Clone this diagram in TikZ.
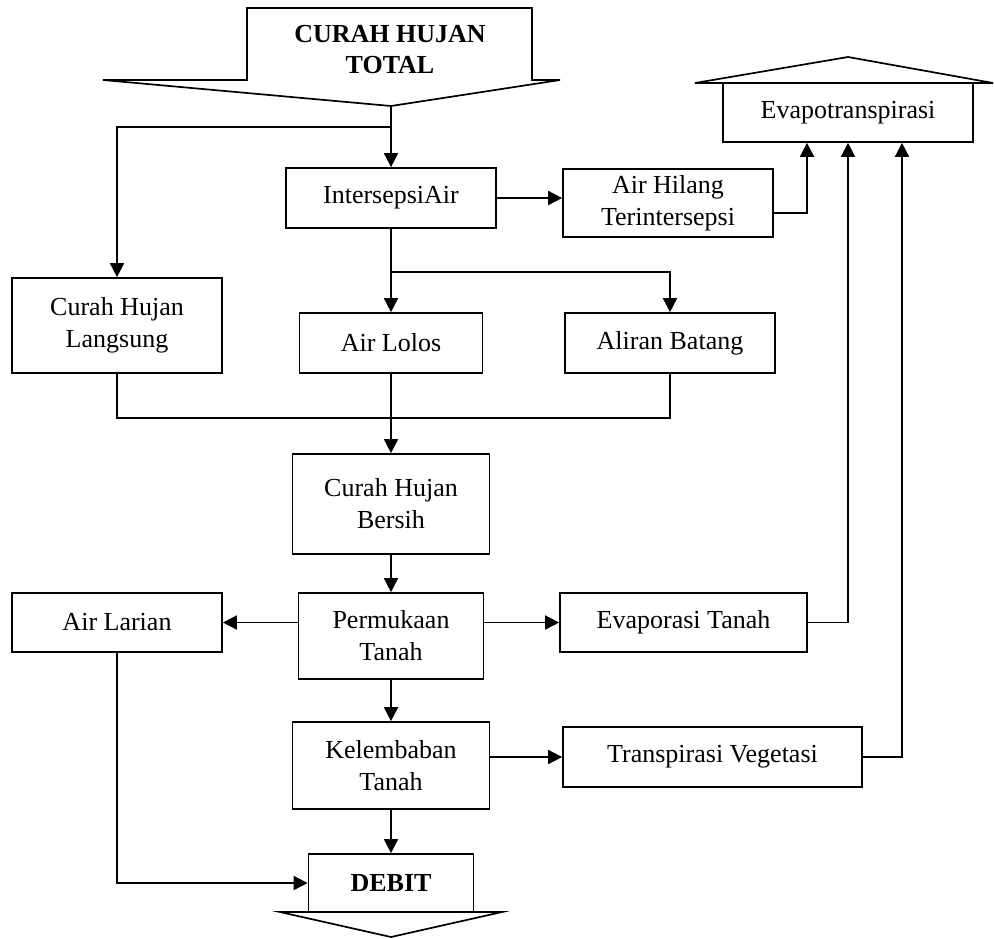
\documentclass[tikz,border=0pt]{standalone}
\usepackage{fontspec}
\setmainfont{Liberation Serif}
\usetikzlibrary{arrows.meta}

\begin{document}
\begin{tikzpicture}[x=0.5pt, y=-0.5pt, line width=0.85pt,
  every node/.style={font=\fontsize{13}{16}\selectfont, align=center},
  box/.style={draw, inner sep=0pt},
  arr/.style={-{Triangle[length=7pt, width=7pt]}}]
\useasboundingbox (0,0) rectangle (994,938);

\node[font=\fontsize{13}{15.5}\selectfont\bfseries] (total) at (390,50) {CURAH HUJAN\\TOTAL};
\coordinate (tip) at (391,106);

\node[box, minimum width=105pt, minimum height=30pt] (inter) at (391,198) {IntersepsiAir};
\node[box, minimum width=105pt, minimum height=34pt] (hilang) at (668,203) {Air Hilang\\Terintersepsi};
\node[box, minimum width=125pt, minimum height=29.5pt] (evapo) at (848,112.5) {Evapotranspirasi};

\node[box, minimum width=105pt, minimum height=47.5pt] (langsung) at (117,325.5) {Curah Hujan\\Langsung};
\node[box, minimum width=91.5pt, minimum height=30pt] (lolos) at (391,343) {Air Lolos};
\node[box, minimum width=105pt, minimum height=30pt] (batang) at (670,343) {Aliran Batang};

\node[box, minimum width=98.5pt, minimum height=50pt] (bersih) at (391,504) {Curah Hujan\\Bersih};

\node[box, minimum width=105pt, minimum height=29.5pt] (larian) at (117,622.5) {Air Larian};
\node[box, minimum width=92.5pt, minimum height=43pt] (permukaan) at (391,636) {Permukaan\\Tanah};
\node[box, minimum width=123.5pt, minimum height=29.5pt] (evaporasi) at (683.5,622.5) {Evaporasi Tanah};

\node[box, minimum width=98.5pt, minimum height=43.5pt] (lembab) at (391,765.5) {Kelembaban\\Tanah};
\node[box, minimum width=149.5pt, minimum height=30pt] (transpirasi) at (712.5,757) {Transpirasi Vegetasi};

\node[box, minimum width=82.5pt, minimum height=29pt] (debit) at (391,883) {\bfseries DEBIT};

\coordinate (split1) at (391,127);
\coordinate (split2) at (391,272);
\coordinate (join) at (391,418);

% callout shapes
\draw (247,80) -- (247,8) -- (532,8) -- (532,80) -- (560,80) -- (tip) -- (103,80) -- cycle;
\draw (695,83) -- (848,57) -- (993,83) -- cycle;
\draw (280,912) -- (502,912) -- (391,937) -- cycle;

\draw[arr] (tip) -- (inter);
\draw[arr] (split1) -| (langsung);
\draw[arr] (inter.east) -- (inter.east -| hilang.west);
\draw[arr] ([yshift=-5pt]hilang.east) -| ([xshift=-20.5pt]evapo.south);

\draw[arr] (inter) -- (lolos);
\draw[arr] (split2) -| (batang);
\draw (langsung.south) |- (join) -| (batang.south);
\draw[arr] (lolos) -- (bersih);

\draw[arr] (bersih) -- (permukaan);
\draw[arr] (permukaan.west |- larian) -- (larian);
\draw[arr] (permukaan.east |- evaporasi) -- (evaporasi);
\draw[arr] (evaporasi) -| (evapo);

\draw[arr] (permukaan) -- (lembab);
\draw[arr] (lembab.east |- transpirasi) -- (transpirasi);
\draw[arr] (transpirasi) -| ([xshift=27pt]evapo.south);

\draw[arr] (lembab) -- (debit);
\draw[arr] (larian) |- (debit);
\end{tikzpicture}
\end{document}
